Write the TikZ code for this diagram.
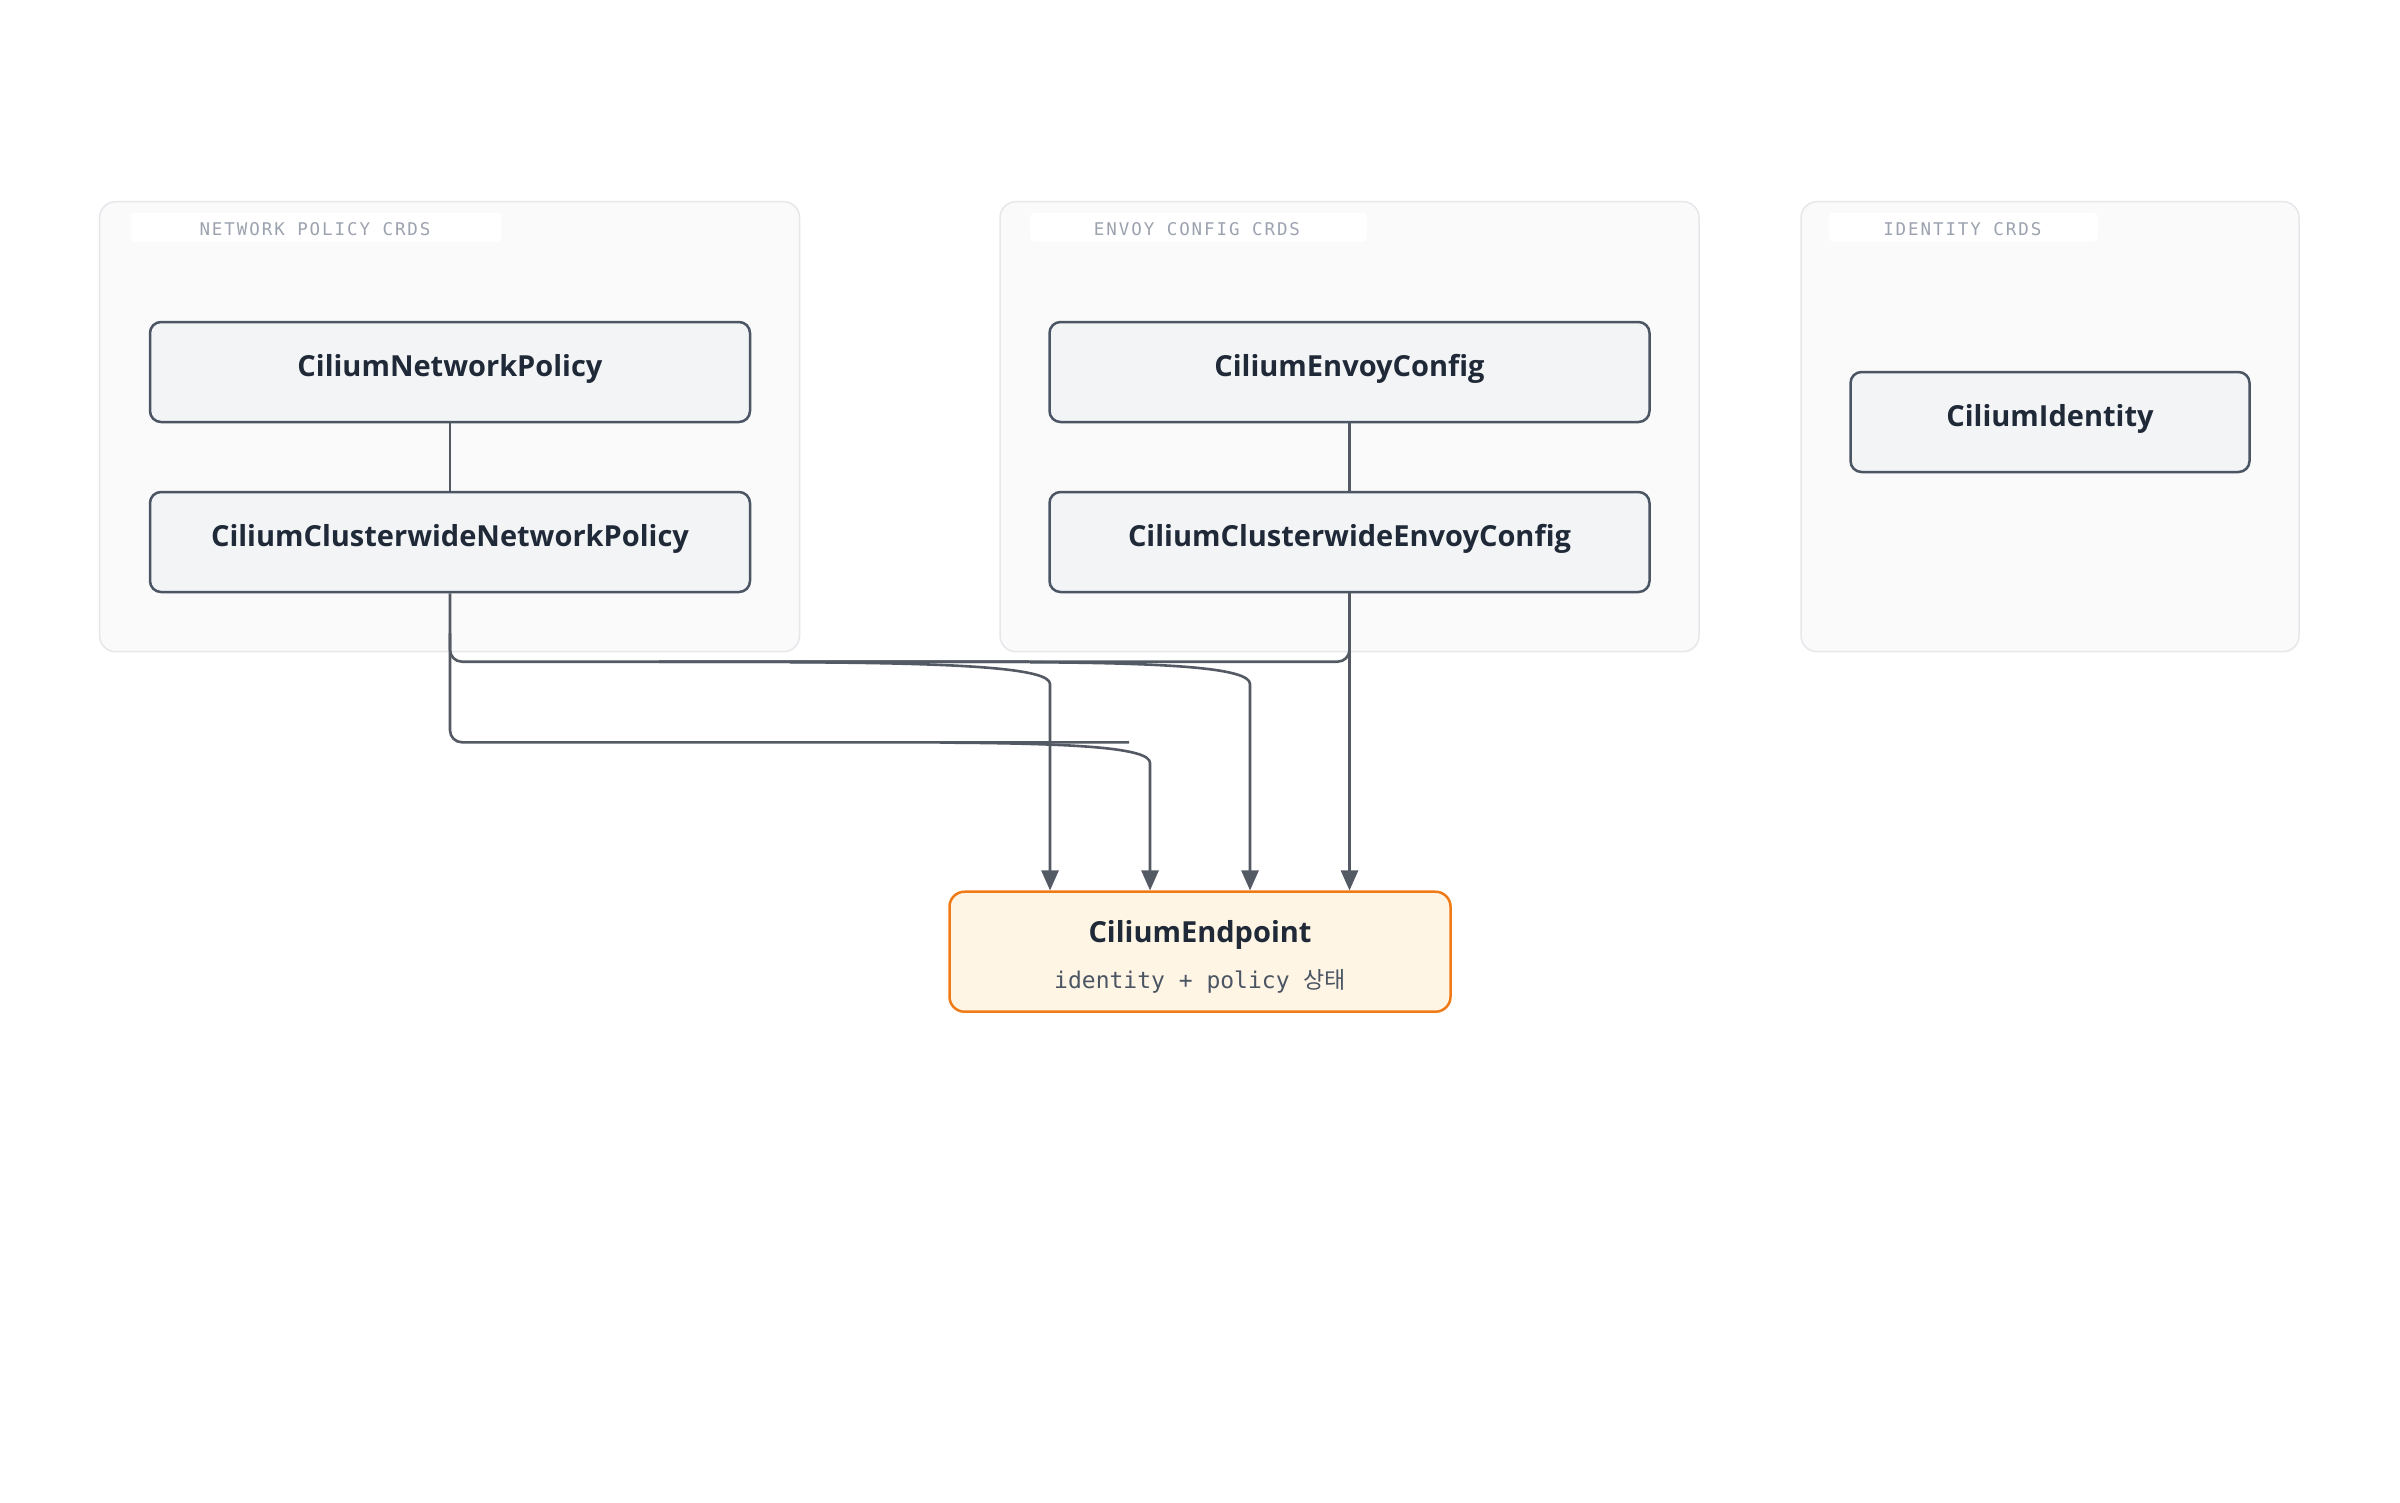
\documentclass[tikz,border=0pt]{standalone}
\usepackage{fontspec}
\setmainfont{Open Sans}
\newfontfamily\monof{DejaVu Sans Mono}
\newfontfamily\labf[LetterSpace=11]{DejaVu Sans Mono}
\newfontfamily\cjk{Noto Sans CJK KR}
\usetikzlibrary{arrows.meta,calc}
\definecolor{grpfill}{HTML}{FAFAFA}
\definecolor{grpline}{HTML}{E5E7EB}
\definecolor{lbltext}{HTML}{9CA3AF}
\definecolor{nodefill}{HTML}{F3F4F6}
\definecolor{nodeline}{HTML}{4B5563}
\definecolor{txt}{HTML}{1F2937}
\definecolor{edgec}{HTML}{535A64}
\definecolor{cefill}{HTML}{FEF5E4}
\definecolor{celine}{HTML}{F07A16}
\definecolor{subtxt}{HTML}{4B5563}
\tikzset{
  grp/.style={draw=grpline, fill=grpfill, line width=1.5pt, rounded corners=16pt, inner sep=0pt},
  lblbg/.style={fill=white, rounded corners=4pt, inner sep=0pt, minimum height=29pt},
  lbltxt/.style={inner sep=0pt, text=lbltext, font=\labf\fontsize{17.5}{20}\selectfont},
  crd/.style={draw=nodeline, fill=nodefill, line width=2.5pt, rounded corners=11pt,
    minimum width=600pt, minimum height=100pt, inner sep=0pt,
    text height=22pt, text depth=13pt,
    font=\fontsize{29}{34}\selectfont\bfseries, text=txt},
  edge/.style={draw=edgec, line width=2.6pt},
  arr/.style={edge, -{Triangle[length=20pt,width=17pt]}},
}
\begin{document}
\begin{tikzpicture}[x=1pt,y=-1pt]
\useasboundingbox[fill=white] (0,0) rectangle (2400,1502);

% groups
\node[grp, minimum width=700pt, minimum height=450pt] (gnet) at (449.6,426.7) {};
\node[grp, minimum width=699pt, minimum height=450pt] (genv) at (1349.5,426.7) {};
\node[grp, minimum width=498pt, minimum height=450pt] (gid) at (2050,426.7) {};
\node[lblbg, minimum width=371pt] (lnetbg) at (316,227.2) {};
\node[lblbg, minimum width=337pt] (lenvbg) at (1198.7,227.2) {};
\node[lblbg, minimum width=269pt] (lidbg) at (1963.5,227.2) {};
\node[lbltxt] (lnet) at (315,228.7) {NETWORK POLICY CRDS};
\node[lbltxt] (lenv) at (1197,228.7) {ENVOY CONFIG CRDS};
\node[lbltxt] (lid) at (1962.3,228.7) {IDENTITY CRDS};

% nodes
\node[crd] (cnp) at (450,372) {CiliumNetworkPolicy};
\node[crd] (ccnp) at (450,542) {CiliumClusterwideNetworkPolicy};
\node[crd] (cec) at (1349.5,372) {CiliumEnvoyConfig};
\node[crd] (ccec) at (1349.5,542) {CiliumClusterwideEnvoyConfig};
\node[crd, minimum width=399pt] (cid) at (2050,422) {CiliumIdentity};
\node[draw=celine, fill=cefill, line width=2.5pt, rounded corners=15pt,
  minimum width=501pt, minimum height=120pt, inner sep=0pt] (ce) at (1200,951.7) {};
\node[anchor=base, inner sep=0pt, text=txt, font=\fontsize{29}{34}\selectfont\bfseries] (cetitle) at (1200,942.3) {CiliumEndpoint};
\node[anchor=base, inner sep=0pt, text=subtxt, font=\monof\fontsize{23}{28}\selectfont] (cesub) at (1200,988) {identity + policy {\cjk 상태}};

% helper coordinates
\coordinate (stubA) at (1029,661.7);
\coordinate (stubB) at (1129,742.3);
\coordinate (stubC) at (659,661.7);
\coordinate (x1) at (1050,0);
\coordinate (x2) at (1150,0);
\coordinate (x3) at (1250,0);

% group-internal links
\draw[edge] (cnp.south) -- (ccnp.north);
\draw[edge] (cec.south) -- (ccec.north);

% routed edges
\draw[edge, rounded corners=12pt] (ccnp.south) |- (stubB);
\draw[edge, rounded corners=12pt] ($(ccnp.south)+(0,40)$) |- (stubA);
\draw[edge, rounded corners=12pt] (ccec.south) |- (stubC);
\draw[arr] (790,662.2) .. controls (960,663) and (1050,668) .. (1050,684) -- (x1 |- ce.north);
\draw[arr] (1030,662.2) .. controls (1170,663) and (1250,668) .. (1250,684) -- (x3 |- ce.north);
\draw[arr] (940,742.6) .. controls (1080,743.3) and (1150,748) .. (1150,763) -- (x2 |- ce.north);
\draw[arr] (ccec.south) -- (ccec.south |- ce.north);
\end{tikzpicture}
\end{document}
